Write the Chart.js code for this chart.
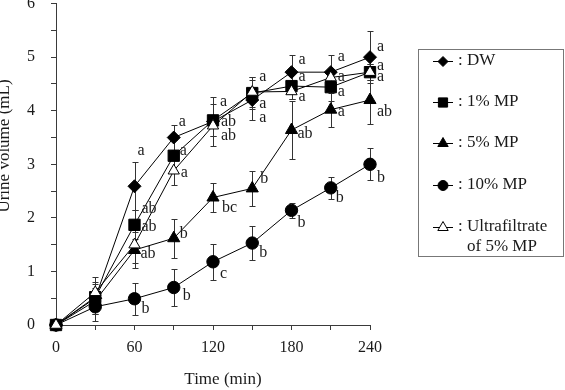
<!DOCTYPE html>
<html><head><meta charset="utf-8">
<script src="https://cdn.jsdelivr.net/npm/chart.js@4.4.1/dist/chart.umd.min.js"></script>
<style>
html,body{margin:0;padding:0;background:#fff;overflow:hidden}
#wrap{position:relative;width:565px;height:390px;overflow:hidden;background:#fff}
canvas{position:absolute;left:0;top:-22px}
</style>
</head><body>
<div id="wrap"><canvas id="c" width="565" height="412"></canvas></div>
<script>
// ---------- data ----------
const times = [0, 30, 60, 90, 120, 150, 180, 210, 240];
const xTickLabels = [0, 60, 120, 180, 240];
const yTickLabels = [0, 1, 2, 3, 4, 5, 6];

const seriesNames = ['DW', '1% MP', '5% MP', '10% MP', 'Ultrafiltrate of 5% MP'];

const dwMean  = [0, 0.50, 2.59, 3.50, 3.80, 4.20, 4.72, 4.72, 5.00];
const dwErr   = [0, 0.30, 0.45, 0.23, 0.45, 0.37, 0.32, 0.32, 0.48];
const dwSig   = [null, null, 'a', 'a', 'a', 'a', 'a', 'a', 'a'];

const mp1Mean = [0, 0.52, 1.87, 3.16, 3.82, 4.33, 4.46, 4.44, 4.72];
const mp1Err  = [0, 0.25, 0.27, 0.30, 0.30, 0.30, 0.25, 0.25, 0.15];
const mp1Sig  = [null, null, 'ab', 'a', 'ab', 'a', 'a', 'a', 'a'];

const mp5Mean = [0, 0.45, 1.40, 1.62, 2.38, 2.55, 3.64, 4.02, 4.20];
const mp5Err  = [0, 0.25, 0.33, 0.36, 0.27, 0.33, 0.54, 0.32, 0.45];
const mp5Sig  = [null, null, 'ab', 'b', 'bc', 'b', 'ab', 'a', 'ab'];

const mp10Mean = [0, 0.34, 0.49, 0.70, 1.18, 1.53, 2.14, 2.56, 3.00];
const mp10Err  = [0, 0.27, 0.30, 0.34, 0.34, 0.31, 0.14, 0.21, 0.30];
const mp10Sig  = [null, null, 'b', 'b', 'c', 'b', 'b', 'b', 'b'];

const ufMean = [0, 0.61, 1.50, 2.88, 3.72, 4.35, 4.36, 4.62, 4.72];
const ufErr  = [0, 0.28, 0.35, 0.26, 0.20, 0.28, 0.15, 0.15, 0.15];
const ufSig  = [null, null, 'ab', 'a', 'ab', 'a', 'a', 'a', 'a'];

const legendTexts = [': DW', ': 1% MP', ': 5% MP', ': 10% MP', ': Ultrafiltrate', 'of 5% MP'];
const xTitle = 'Time (min)';
const yTitle = 'Urine volume (mL)';

// ---------- layout / style (not data) ----------
const OFF = 22; // canvas is shifted up by this amount
const FONT = "'Liberation Serif', 'Times New Roman', serif";
const TEXT = '#1a1a1a';
const AXIS = '#3a3a3a';

// label offsets (px) relative to the marker: [dx, dy]
const sigOffsets = {
  dw:  [[0,0],[0,0],[3,-35],[5,-16],[7,-20],[7,4],[7,-12],[7,-15],[7,-10]],
  mp1: [[0,0],[0,0],[7,2],[6,-5],[8,1],[7,-16],[7,-9],[7,5],[7,-6]],
  mp5: [[0,0],[0,0],[6,4],[6,-4],[9,10],[8,-10],[6,4],[7,2],[7,12]],
  mp10:[[0,0],[0,0],[7,10],[9,8],[7,12],[7,10],[6,12],[5,10],[7,13]],
  uf:  [[0,0],[0,0],[7,-36],[7,2],[8,10],[7,26],[7,5],[7,-1],[7,5]]
};

const series = [
  {key:'dw',  name:seriesNames[0], mean:dwMean,  err:dwErr,  sig:dwSig,  style:'rectRot',  r:6.5, fill:'#000', order:3},
  {key:'mp1', name:seriesNames[1], mean:mp1Mean, err:mp1Err, sig:mp1Sig, style:'rect',     r:8,   fill:'#000', order:2},
  {key:'mp5', name:seriesNames[2], mean:mp5Mean, err:mp5Err, sig:mp5Sig, style:'triangle', r:7,   fill:'#000', order:4},
  {key:'mp10',name:seriesNames[3], mean:mp10Mean,err:mp10Err,sig:mp10Sig,style:'circle',   r:6.2, fill:'#000', order:5},
  {key:'uf',  name:seriesNames[4], mean:ufMean,  err:ufErr,  sig:ufSig,  style:'triangle', r:6.5, fill:'#fff', order:1}
];

function marker(ctx, style, x, y, r, fill) {
  ctx.save();
  ctx.fillStyle = fill; ctx.strokeStyle = '#000'; ctx.lineWidth = 1;
  ctx.beginPath();
  if (style === 'rectRot') {
    ctx.moveTo(x, y - r); ctx.lineTo(x + r, y); ctx.lineTo(x, y + r); ctx.lineTo(x - r, y); ctx.closePath();
  } else if (style === 'rect') {
    const s = r * Math.SQRT1_2; ctx.rect(x - s, y - s, 2 * s, 2 * s);
  } else if (style === 'triangle') {
    for (let k = 0; k < 3; k++) {
      const a = k * 2 * Math.PI / 3;
      const px = x + Math.sin(a) * r, py = y - Math.cos(a) * r;
      if (k === 0) ctx.moveTo(px, py); else ctx.lineTo(px, py);
    }
    ctx.closePath();
  } else {
    ctx.arc(x, y, r, 0, Math.PI * 2);
  }
  ctx.fill(); ctx.stroke();
  ctx.restore();
}

const decor = {
  id: 'decor',
  beforeDatasetsDraw(chart) {
    const ctx = chart.ctx, xs = chart.scales.x, ys = chart.scales.y;
    ctx.save();
    ctx.strokeStyle = '#333'; ctx.lineWidth = 1;
    series.forEach(s => {
      s.mean.forEach((m, j) => {
        const e = s.err[j];
        if (!e) return;
        const x = Math.round(xs.getPixelForValue(times[j])) + 0.5;
        const y1 = Math.round(ys.getPixelForValue(m + e)) + 0.5;
        const y2 = Math.round(ys.getPixelForValue(m - e)) + 0.5;
        ctx.beginPath();
        ctx.moveTo(x, y1); ctx.lineTo(x, y2);
        ctx.moveTo(x - 3, y1); ctx.lineTo(x + 3, y1);
        ctx.moveTo(x - 3, y2); ctx.lineTo(x + 3, y2);
        ctx.stroke();
      });
    });
    ctx.restore();
  },
  afterDatasetsDraw(chart) {
    const ctx = chart.ctx, xs = chart.scales.x, ys = chart.scales.y;
    ctx.save();
    ctx.font = '16px ' + FONT; ctx.fillStyle = TEXT;
    ctx.textAlign = 'left'; ctx.textBaseline = 'middle';
    series.forEach(s => {
      s.sig.forEach((t, j) => {
        if (!t) return;
        const o = sigOffsets[s.key][j];
        ctx.fillText(t, xs.getPixelForValue(times[j]) + o[0], ys.getPixelForValue(s.mean[j]) + o[1]);
      });
    });
    ctx.restore();
  },
  afterDraw(chart) {
    const ctx = chart.ctx;
    ctx.save();
    // axis titles
    ctx.fillStyle = TEXT;
    ctx.font = '17px ' + FONT;
    ctx.textAlign = 'center'; ctx.textBaseline = 'middle';
    ctx.fillText(xTitle, 223, 380 + OFF);
    ctx.save();
    ctx.translate(9, 146 + OFF);
    ctx.rotate(-Math.PI / 2);
    ctx.textBaseline = 'alphabetic';
    ctx.fillText(yTitle, 0, 0);
    ctx.restore();
    // legend box
    ctx.strokeStyle = '#777'; ctx.lineWidth = 1;
    ctx.strokeRect(418.5, 49.5 + OFF, 145, 207);
    const ys = [61, 102, 143, 185, 227];
    const lr = [5, 6.5, 6, 5, 6];
    series.forEach((s, i) => {
      const y = ys[i] + OFF;
      ctx.strokeStyle = '#000'; ctx.lineWidth = 1;
      ctx.beginPath(); ctx.moveTo(433, Math.round(y) + 0.5); ctx.lineTo(453, Math.round(y) + 0.5); ctx.stroke();
      marker(ctx, s.style, 443, Math.round(y) + 0.5, lr[i], s.fill);
      ctx.fillStyle = TEXT; ctx.font = '17px ' + FONT;
      ctx.textAlign = 'left'; ctx.textBaseline = 'middle';
      ctx.fillText(legendTexts[i], 458, y);
    });
    ctx.fillText(legendTexts[5], 467, 247 + OFF);
    ctx.restore();
  }
};

const datasets = series.map(s => ({
  label: s.name,
  data: times.map((t, j) => ({x: t, y: s.mean[j]})),
  borderColor: '#000',
  borderWidth: 1,
  pointStyle: s.style,
  pointRadius: s.r,
  pointHoverRadius: s.r,
  pointBackgroundColor: s.fill,
  pointBorderColor: '#000',
  pointBorderWidth: 1,
  tension: 0,
  fill: false,
  clip: false,
  order: s.order
}));

new Chart(document.getElementById('c'), {
  type: 'line',
  data: {datasets},
  options: {
    responsive: false,
    animation: false,
    devicePixelRatio: 1,
    events: [],
    layout: {padding: {top: 20, right: 195, left: 0, bottom: 0}},
    plugins: {legend: {display: false}, tooltip: {enabled: false}, title: {display: false}},
    scales: {
      x: {
        type: 'linear', min: 0, max: 240,
        afterFit(sc) { sc.height = 65; },
        border: {display: true, color: AXIS, width: 1},
        grid: {drawOnChartArea: false, drawTicks: true, tickLength: 5, color: AXIS, tickColor: AXIS},
        ticks: {
          stepSize: 30, autoSkip: false, maxRotation: 0, padding: 8,
          color: TEXT, font: {family: FONT, size: 16},
          callback: v => xTickLabels.includes(v) ? String(v) : ''
        }
      },
      y: {
        type: 'linear', min: 0, max: 6,
        afterFit(sc) { sc.width = 56; },
        border: {display: true, color: AXIS, width: 1},
        grid: {drawOnChartArea: false, drawTicks: true, tickLength: 5, color: AXIS, tickColor: AXIS},
        ticks: {
          stepSize: 0.5, autoSkip: false, padding: 16,
          color: TEXT, font: {family: FONT, size: 16},
          callback: v => yTickLabels.includes(v) ? String(v) : ''
        }
      }
    }
  },
  plugins: [decor]
});
</script>
</body></html>
